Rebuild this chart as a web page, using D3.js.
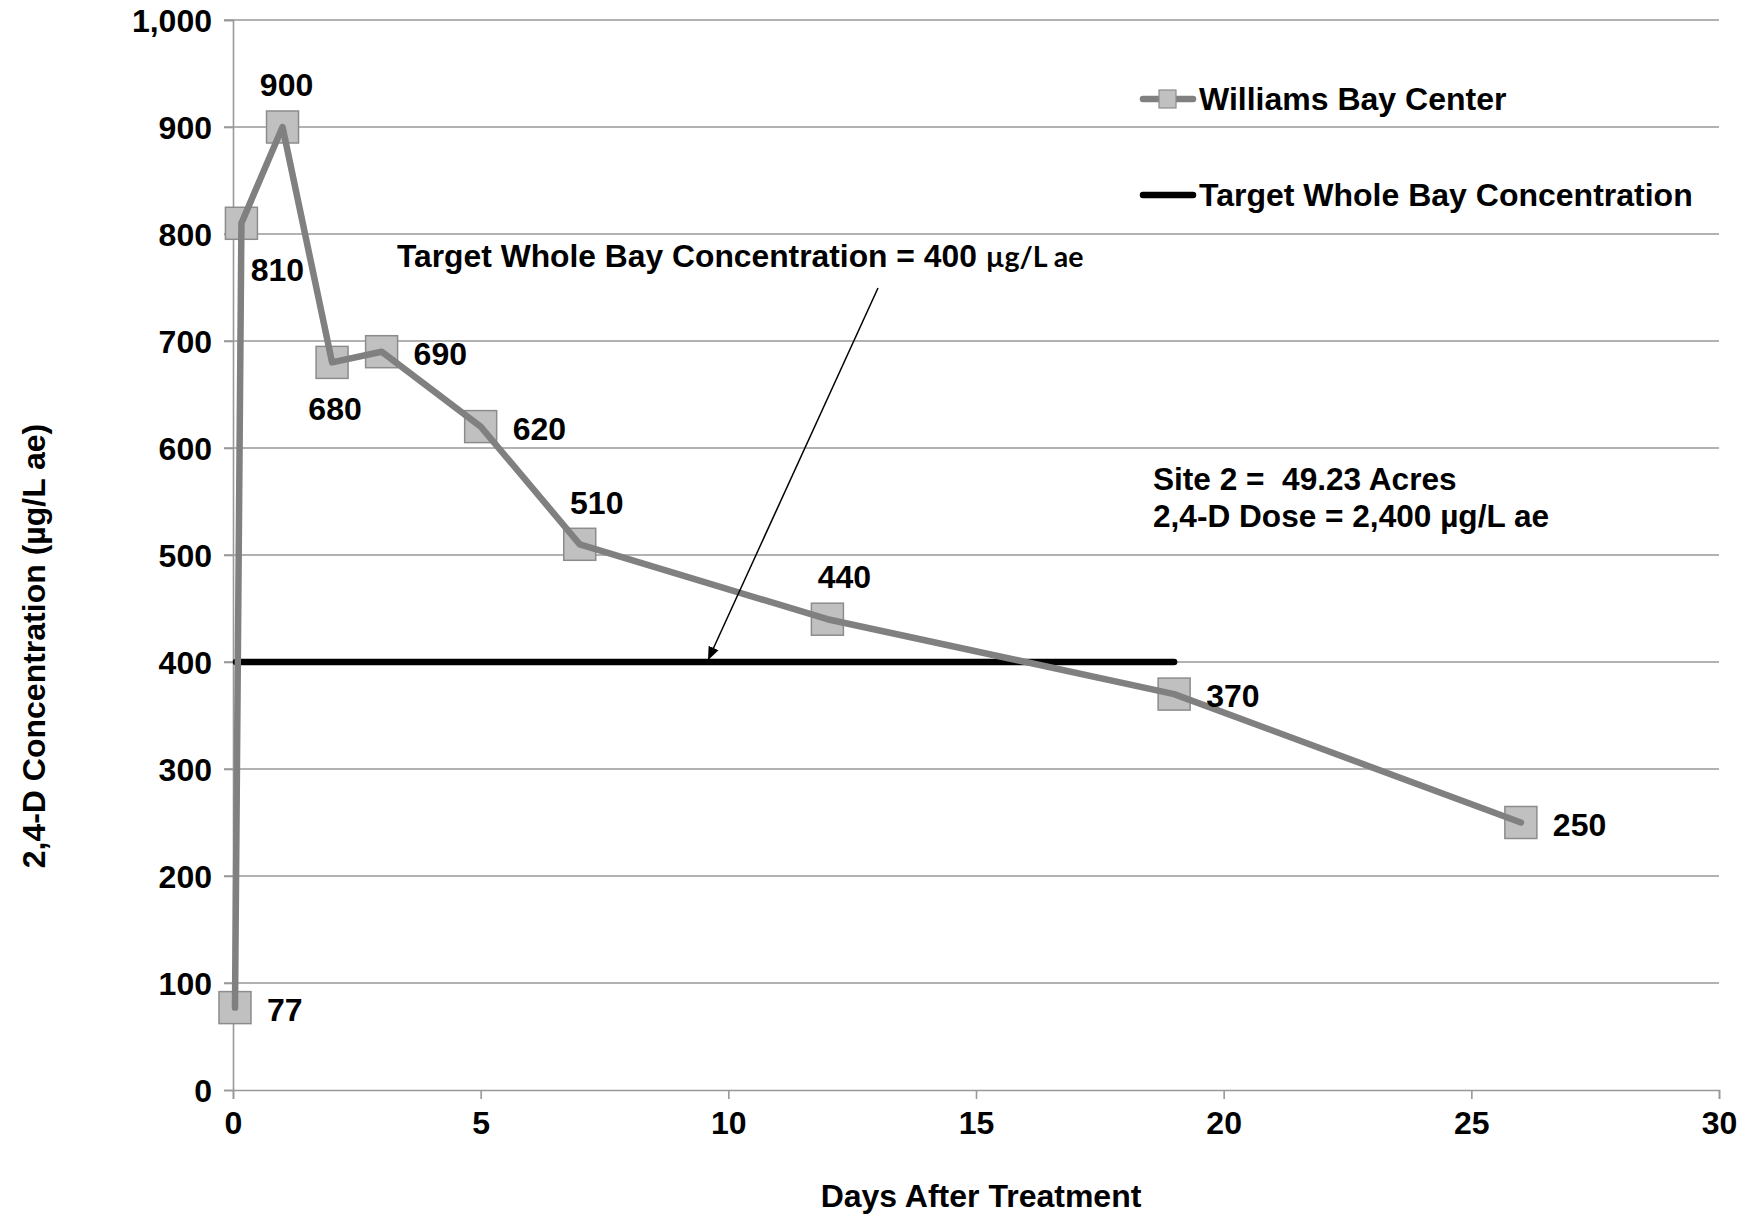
<!DOCTYPE html>
<html>
<head>
<meta charset="utf-8">
<script src="https://cdn.jsdelivr.net/npm/d3@7"></script>
<style>
  body { margin: 0; background: #fff; }
  text { font-family: "Liberation Sans", Arial, sans-serif; font-weight: bold; fill: #000; }
</style>
</head>
<body>
<div id="chart"></div>
<script>
// sampled concentrations, Williams Bay Center
const days = [0.04, 0.17, 1, 2, 3, 5, 7, 12, 19, 26];
const conc = [77, 810, 900, 680, 690, 620, 510, 440, 370, 250];
const labelSide = ["right", "below", "above", "below", "right", "right", "above", "above", "right", "right"];

// target line
const targetDays = [0, 19];
const targetValue = 400;

const xTicks = [0, 5, 10, 15, 20, 25, 30];
const yTicks = [0, 100, 200, 300, 400, 500, 600, 700, 800, 900, 1000];

const W = 1752, H = 1217;
const m = { left: 233, right: 33, top: 20, bottom: 127 };
const fs = "32px";

const svg = d3.select("#chart").append("svg")
  .attr("width", W).attr("height", H);

const x = d3.scaleLinear().domain([0, 30]).range([m.left, W - m.right]);
const y = d3.scaleLinear().domain([0, 1000]).range([H - m.bottom, m.top]);

// gridlines
svg.append("g")
  .selectAll("line")
  .data(yTicks.filter(d => d > 0))
  .join("line")
  .attr("x1", x(0) - 9).attr("x2", x(30))
  .attr("y1", d => y(d)).attr("y2", d => y(d))
  .attr("stroke", "#999").attr("stroke-width", 1.6);

// y axis
const yAxis = svg.append("g")
  .attr("transform", `translate(${x(0)},0)`)
  .call(d3.axisLeft(y).tickValues(yTicks).tickSize(9).tickPadding(12).tickFormat(d3.format(",")));
yAxis.select(".domain").attr("stroke", "#999").attr("stroke-width", 1.6);
yAxis.selectAll(".tick line").attr("stroke", "#999").attr("stroke-width", 1.6);
yAxis.selectAll(".tick text").style("font-size", fs).attr("dy", "0.35em");

// x axis
const xAxis = svg.append("g")
  .attr("transform", `translate(0,${y(0)})`)
  .call(d3.axisBottom(x).tickValues(xTicks).tickSize(9).tickSizeOuter(9).tickPadding(12));
xAxis.select(".domain").attr("stroke", "#999").attr("stroke-width", 1.6);
xAxis.selectAll(".tick line").attr("stroke", "#999").attr("stroke-width", 1.6);
xAxis.selectAll(".tick text").style("font-size", fs);

// axis titles
svg.append("text")
  .attr("x", 981).attr("y", 1207)
  .attr("text-anchor", "middle")
  .style("font-size", fs)
  .text("Days After Treatment");

svg.append("text")
  .attr("transform", "translate(45,646) rotate(-90)")
  .attr("text-anchor", "middle")
  .style("font-size", fs)
  .text("2,4-D Concentration (µg/L ae)");

// target line
svg.append("line")
  .attr("x1", x(targetDays[0]) + 3).attr("x2", x(targetDays[1]))
  .attr("y1", y(targetValue)).attr("y2", y(targetValue))
  .attr("stroke", "#000").attr("stroke-width", 6.5).attr("stroke-linecap", "round");

// series
const pts = days.map((d, i) => ({ d, v: conc[i], side: labelSide[i] }));
const ms = 32;
svg.append("g").selectAll("rect")
  .data(pts)
  .join("rect")
  .attr("x", p => x(p.d) - ms / 2).attr("y", p => y(p.v) - ms / 2)
  .attr("width", ms).attr("height", ms)
  .attr("fill", "#c0c0c0")
  .attr("stroke", "#8c8c8c").attr("stroke-width", 1.5);

svg.append("path")
  .datum(pts)
  .attr("d", d3.line().x(p => x(p.d)).y(p => y(p.v)))
  .attr("fill", "none")
  .attr("stroke", "#808080").attr("stroke-width", 6.5)
  .attr("stroke-linejoin", "round").attr("stroke-linecap", "round");

// data labels
const lx = p => {
  if (p.side === "right") return x(p.d) + 32;
  if (p.side === "below") return x(p.d) + (p.v === 810 ? 36 : 3);
  return x(p.d) + (p.v === 900 ? 4 : 17);
};
svg.append("g").selectAll("text")
  .data(pts)
  .join("text")
  .style("font-size", fs)
  .attr("text-anchor", p => p.side === "right" ? "start" : "middle")
  .attr("x", lx)
  .attr("y", p => p.side === "above" ? y(p.v) - 42 : p.side === "below" ? y(p.v) + 46 : y(p.v) + 2)
  .attr("dy", "0.35em")
  .text(p => p.v);

// annotation with arrow
svg.append("defs").append("marker")
  .attr("id", "arr")
  .attr("viewBox", "0 0 10 10")
  .attr("refX", 9).attr("refY", 5)
  .attr("markerWidth", 9).attr("markerHeight", 9)
  .attr("orient", "auto")
  .append("path").attr("d", "M0,1 L10,5 L0,9 z").attr("fill", "#000");

svg.append("line")
  .attr("x1", 878).attr("y1", 288)
  .attr("x2", x(9.6)).attr("y2", y(targetValue) - 3)
  .attr("stroke", "#000").attr("stroke-width", 1.5)
  .attr("marker-end", "url(#arr)");

const ann = svg.append("text")
  .attr("x", 397).attr("y", 256)
  .attr("dy", "0.35em")
  .style("font-size", "31.8px");
ann.append("tspan").text("Target Whole Bay Concentration = 400 ");
ann.append("tspan")
  .style("font-family", "Lato, sans-serif")
  .style("font-size", "28.5px")
  .text("µg/L ae");

// legend
const lg = svg.append("g");
lg.append("line")
  .attr("x1", 1143).attr("x2", 1193).attr("y1", 99).attr("y2", 99)
  .attr("stroke", "#808080").attr("stroke-width", 6.5).attr("stroke-linecap", "round");
lg.append("rect")
  .attr("x", 1159).attr("y", 90).attr("width", 17).attr("height", 18)
  .attr("fill", "#c0c0c0").attr("stroke", "#8c8c8c").attr("stroke-width", 1.2);
lg.append("text").attr("x", 1199).attr("y", 99).attr("dy", "0.35em")
  .style("font-size", fs).text("Williams Bay Center");

lg.append("line")
  .attr("x1", 1143).attr("x2", 1193).attr("y1", 195).attr("y2", 195)
  .attr("stroke", "#000").attr("stroke-width", 6.5).attr("stroke-linecap", "round");
lg.append("text").attr("x", 1199).attr("y", 195).attr("dy", "0.35em")
  .style("font-size", fs).text("Target Whole Bay Concentration");

// site notes
svg.append("text").attr("x", 1153).attr("y", 479).attr("dy", "0.35em")
  .style("font-size", "31.6px").style("white-space", "pre")
  .text("Site 2 =  49.23 Acres");
svg.append("text").attr("x", 1153).attr("y", 516).attr("dy", "0.35em")
  .style("font-size", "31.6px")
  .text("2,4-D Dose = 2,400 µg/L ae");
</script>
</body>
</html>
